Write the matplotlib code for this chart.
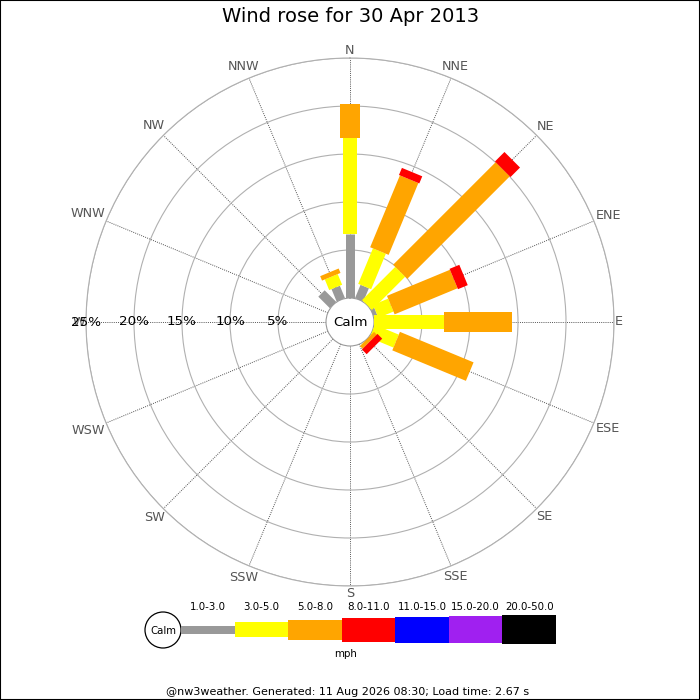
import numpy as np
import matplotlib
matplotlib.use('Agg')
import matplotlib.pyplot as plt
from matplotlib.patches import Rectangle, Circle

# Wind rose data: percentage of time per direction and speed class
directions = ['N', 'NNE', 'NE', 'ENE', 'E', 'ESE', 'SE', 'SSE',
              'S', 'SSW', 'SW', 'WSW', 'W', 'WNW', 'NW', 'NNW']
speed_bins = ['1.0-3.0', '3.0-5.0', '5.0-8.0', '8.0-11.0',
              '11.0-15.0', '15.0-20.0', '20.0-50.0']
bin_colours = ['#999999', '#ffff00', '#ffa500', '#ff0000',
               '#0000ff', '#a020f0', '#000000']

pct_1_3 = [6.7, 1.5, 0, 0.4, 0, 0, 0, 0, 0, 0, 0, 0, 0, 0, 1.7, 1.4]
pct_3_5 = [10.0, 4.0, 4.9, 1.7, 7.3, 2.7, 0, 0, 0, 0, 0, 0, 0, 0, 0, 1.2]
pct_5_8 = [3.5, 8.1, 15.1, 7.1, 7.1, 8.3, 0.4, 0, 0, 0, 0, 0, 0, 0, 0, 0.5]
pct_8_11 = [0, 0.8, 1.4, 1.1, 0, 0, 0.7, 0, 0, 0, 0, 0, 0, 0, 0, 0]
pct_11_15 = [0] * 16
pct_15_20 = [0] * 16
pct_20_50 = [0] * 16
speed_pcts = [pct_1_3, pct_3_5, pct_5_8, pct_8_11, pct_11_15, pct_15_20, pct_20_50]

rings = [5, 10, 15, 20, 25]
title = 'Wind rose for 30 Apr 2013'
footer = '@nw3weather. Generated: 11 Aug 2026 08:30; Load time: 2.67 s'

# bar thickness in pixels for each speed class (rose and legend)
rose_px = [9, 14, 20, 22, 24, 26, 28]
legend_px = [8, 15, 20, 24, 26, 27, 29]
PT = 0.72  # points per pixel at 100 dpi

fig = plt.figure(figsize=(7, 7), dpi=100)

# polar axes: centre at (350, 322) px, 25% ring at 264 px, calm hole of 24 px
ax = fig.add_axes([86 / 700, 114 / 700, 528 / 700, 528 / 700], projection='polar')
ax.set_theta_zero_location('N')
ax.set_theta_direction(-1)
ax.set_rorigin(-2.5)
ax.set_ylim(0, 25)
ax.set_yticks(rings)
ax.set_yticklabels([])
theta = np.radians(np.arange(16) * 22.5)
ax.set_xticks(theta)
ax.set_xticklabels([])
ax.tick_params(length=0)
ax.yaxis.grid(True, color='#b0b0b0', linestyle='-', linewidth=0.8)
ax.xaxis.grid(True, color='#555555', linestyle=(0, (1, 1.2)), linewidth=0.7)
ax.spines['polar'].set_color('#b0b0b0')
ax.spines['polar'].set_linewidth(0.8)
ax.spines['inner'].set_color('#999999')
ax.spines['inner'].set_linewidth(0.8)

# stacked bars
bottom = np.zeros(16)
for k, vals in enumerate(speed_pcts):
    vals = np.array(vals, dtype=float)
    for i in range(16):
        if vals[i] > 0:
            ax.plot([theta[i], theta[i]], [bottom[i], bottom[i] + vals[i]],
                    color=bin_colours[k], linewidth=rose_px[k] * PT,
                    solid_capstyle='butt', zorder=3)
    bottom += vals

# ring labels along the west axis
for r in rings:
    ax.text(np.radians(270), r, f'{r}%', ha='center', va='center',
            fontsize=9.7, color='black', zorder=5)

# direction labels, pushed out by their own size
labels = []
for i, d in enumerate(directions):
    labels.append(ax.text(theta[i], 25.5, d, ha='center', va='center',
                          fontsize=9.2, color='#555555', clip_on=False))
fig.canvas.draw()
renderer = fig.canvas.get_renderer()
for i, t in enumerate(labels):
    bb = t.get_window_extent(renderer)
    s, c = abs(np.sin(theta[i])), abs(np.cos(theta[i]))
    r_px = 265 + 0.5 * bb.width * s + 0.5 * bb.height * c
    t.set_position((theta[i], r_px / 9.6 - 2.5))

# overlay in pixel units for calm label, legend and texts
ov = fig.add_axes([0, 0, 1, 1], facecolor='none')
ov.set_xlim(0, 700)
ov.set_ylim(700, 0)
ov.axis('off')

ov.text(350, 323, 'Calm', ha='center', va='center', fontsize=9.6)

# legend
ov.add_patch(Circle((163, 630), 18, facecolor='white', edgecolor='black', linewidth=0.9))
ov.text(163, 630.5, 'Calm', ha='center', va='center', fontsize=7.3)
seg_w = (556 - 181) / len(speed_bins)
for k, lab in enumerate(speed_bins):
    x0 = 181 + k * seg_w
    h = legend_px[k]
    ov.add_patch(Rectangle((x0, 629.5 - h / 2), seg_w, h, facecolor=bin_colours[k],
                           edgecolor='none'))
    ov.text(x0 + seg_w / 2, 607, lab, ha='center', va='center', fontsize=7.4)
ov.text(346, 654, 'mph', ha='center', va='center', fontsize=7.4)

fig.text(351 / 700, 1 - 17 / 700, title, ha='center', va='center', fontsize=14)
ov.text(348, 692, footer, ha='center', va='center', fontsize=8)

# thin black frame round the figure
fig.patches.append(Rectangle((0, 0), 1, 1, transform=fig.transFigure, fill=False,
                             edgecolor='black', linewidth=1.5))

fig.savefig('out.png', dpi=100)
